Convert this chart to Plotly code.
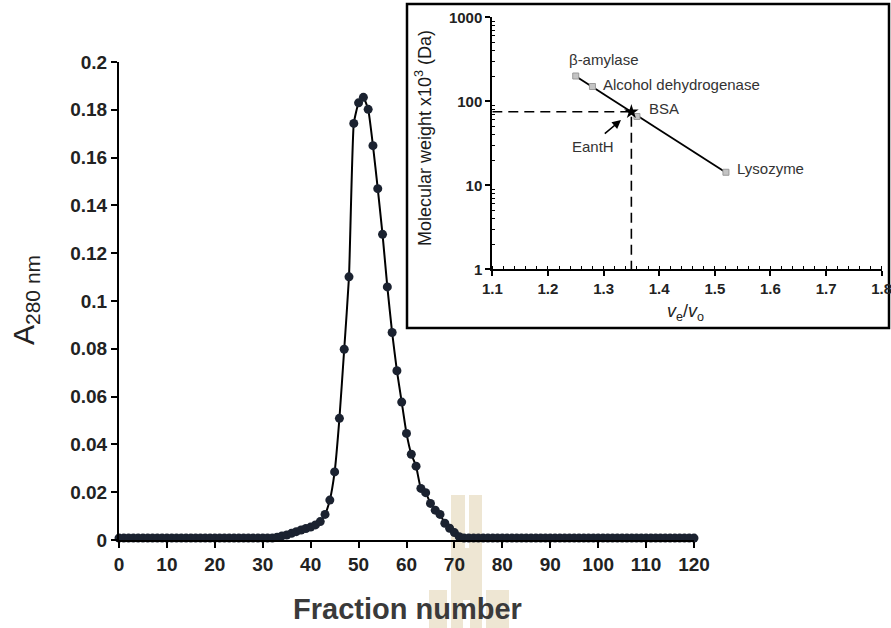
import numpy as np
import plotly.graph_objects as go

W, H = 891, 628

# ---- elution profile (A280 per fraction) ----
fraction = list(range(121))
a280 = [
    0.0008, 0.0008, 0.0008, 0.0008, 0.0008, 0.0008, 0.0008, 0.0008, 0.0008, 0.0008,
    0.0008, 0.0008, 0.0008, 0.0008, 0.0008, 0.0008, 0.0008, 0.0008, 0.0008, 0.0008,
    0.0008, 0.0008, 0.0008, 0.0008, 0.0008, 0.0008, 0.0008, 0.0008, 0.0008, 0.0008,
    0.0008, 0.0008, 0.0008, 0.0012, 0.0017, 0.0021, 0.0028, 0.0035, 0.0042, 0.0048,
    0.0054, 0.0063, 0.0077, 0.0107, 0.0167, 0.0285, 0.0509, 0.0798, 0.1101, 0.1743,
    0.1829, 0.1852, 0.1802, 0.1650, 0.1470, 0.1279, 0.1059, 0.0868, 0.0708, 0.0577,
    0.0446, 0.0359, 0.0309, 0.0216, 0.0198, 0.0153, 0.0125, 0.0107, 0.0070, 0.0049,
    0.0031, 0.0014, 0.0008, 0.0008, 0.0008, 0.0008, 0.0008, 0.0008, 0.0008, 0.0008,
    0.0008, 0.0008, 0.0008, 0.0008, 0.0008, 0.0008, 0.0008, 0.0008, 0.0008, 0.0008,
    0.0008, 0.0008, 0.0008, 0.0008, 0.0008, 0.0008, 0.0008, 0.0008, 0.0008, 0.0008,
    0.0008, 0.0008, 0.0008, 0.0008, 0.0008, 0.0008, 0.0008, 0.0008, 0.0008, 0.0008,
    0.0008, 0.0008, 0.0008, 0.0008, 0.0008, 0.0008, 0.0008, 0.0008, 0.0008, 0.0008,
    0.0008,
]
x_ticks = list(range(0, 121, 10))
y_ticks = [0, 0.02, 0.04, 0.06, 0.08, 0.1, 0.12, 0.14, 0.16, 0.18, 0.2]
y_ticklabels = ["0", "0.02", "0.04", "0.06", "0.08", "0.1", "0.12", "0.14", "0.16", "0.18", "0.2"]

# ---- calibration standards ----
std_names = ["β-amylase", "Alcohol dehydrogenase", "BSA", "Lysozyme"]
std_ve_vo = [1.25, 1.28, 1.36, 1.52]
std_mw = [200, 150, 66, 14.3]
sample_name = "EantH"
sample_ve_vo = 1.35
sample_mw = 75
inset_x_ticks = [1.1, 1.2, 1.3, 1.4, 1.5, 1.6, 1.7, 1.8]
inset_y_ticks = [1, 10, 100, 1000]

FONT = "Arial, Liberation Sans, sans-serif"


def px_x(p):
    return p / W


def px_y(p):
    return 1 - p / H


fig = go.Figure()

# elution profile
fig.add_trace(go.Scatter(
    x=fraction, y=a280, mode="lines+markers",
    line=dict(color="black", width=2, shape="spline", smoothing=0.4),
    marker=dict(color="#1b2230", size=9),
    cliponaxis=False, showlegend=False, xaxis="x", yaxis="y",
))

# log-linear calibration line through the standards
coef = np.polyfit(std_ve_vo, np.log10(std_mw), 1)
fit_x = [min(std_ve_vo), max(std_ve_vo)]
fit_y = [10 ** np.polyval(coef, v) for v in fit_x]
fig.add_trace(go.Scatter(
    x=fit_x, y=fit_y, mode="lines",
    line=dict(color="black", width=1.8),
    showlegend=False, xaxis="x2", yaxis="y2",
))

# dashed read-off lines for the sample
fig.add_trace(go.Scatter(
    x=[inset_x_ticks[0], sample_ve_vo, sample_ve_vo],
    y=[sample_mw, sample_mw, inset_y_ticks[0]],
    mode="lines", line=dict(color="black", width=1.6, dash="10px,6px"),
    showlegend=False, xaxis="x2", yaxis="y2",
))

fig.add_trace(go.Scatter(
    x=std_ve_vo, y=std_mw, mode="markers",
    marker=dict(symbol="square", size=6, color="#c4c4c4",
                line=dict(color="#9a9a9a", width=1)),
    showlegend=False, xaxis="x2", yaxis="y2",
))

fig.add_trace(go.Scatter(
    x=[sample_ve_vo], y=[sample_mw], mode="markers",
    marker=dict(symbol="star", size=11, color="black"),
    showlegend=False, xaxis="x2", yaxis="y2",
))

main_x_dom = [px_x(119), px_x(694)]
main_y_dom = [px_y(540), px_y(62)]
ins_x_dom = [px_x(492.3), px_x(881.7)]
ins_y_dom = [px_y(269.3), px_y(17.3)]

axis_common = dict(showline=True, linecolor="black", showgrid=False,
                   zeroline=False, ticks="outside", tickcolor="black",
                   automargin=False, ticklabeloverflow="allow")

fig.update_layout(
    width=W, height=H,
    margin=dict(l=0, r=0, t=0, b=0, pad=0, autoexpand=False),
    paper_bgcolor="white", plot_bgcolor="rgba(0,0,0,0)",
    font=dict(family=FONT, color="#222"),
    xaxis=dict(domain=main_x_dom, range=[0, 120], tickvals=x_ticks,
               linewidth=2, tickwidth=2, ticklen=6, anchor="y",
               tickfont=dict(size=19, family=FONT, color="#222", weight="bold"),
               **axis_common),
    yaxis=dict(domain=main_y_dom, range=[0, 0.2], tickvals=y_ticks,
               ticktext=y_ticklabels, linewidth=2, tickwidth=2, ticklen=6,
               anchor="x",
               tickfont=dict(size=19, family=FONT, color="#222", weight="bold"),
               **axis_common),
    xaxis2=dict(domain=ins_x_dom, range=[1.1, 1.8], tickvals=inset_x_ticks,
                ticktext=[f"{v:.1f}" for v in inset_x_ticks],
                linewidth=2, tickwidth=1.5, ticklen=5, anchor="y2",
                minor=dict(dtick=0.02, tick0=1.1, ticks="inside", ticklen=3,
                           tickwidth=1.2, tickcolor="black"),
                tickfont=dict(size=15, family=FONT, color="#222", weight="bold"),
                **axis_common),
    yaxis2=dict(domain=ins_y_dom, type="log", range=[0, 3],
                tickvals=inset_y_ticks, ticktext=[str(v) for v in inset_y_ticks],
                linewidth=2, tickwidth=1.5, ticklen=5, anchor="x2",
                minor=dict(tickvals=[2, 3, 4, 5, 6, 7, 8, 9,
                                     20, 30, 40, 50, 60, 70, 80, 90,
                                     200, 300, 400, 500, 600, 700, 800, 900],
                           ticks="inside", ticklen=3, tickwidth=1.2,
                           tickcolor="black"),
                tickfont=dict(size=15, family=FONT, color="#222", weight="bold"),
                **axis_common),
)

shapes = []
# faint watermark emblem
tan = "rgba(222,205,168,0.5)"
for x0, y0, x1, y1 in [(451, 495, 482, 628), (429, 590, 447, 628), (486, 590, 509, 628)]:
    shapes.append(dict(type="rect", xref="paper", yref="paper",
                       x0=px_x(x0), x1=px_x(x1), y0=px_y(y1), y1=px_y(y0),
                       fillcolor=tan, line=dict(width=0), layer="below"))
for x0, y0, x1, y1 in [(465, 495, 469, 548), (463, 600, 470, 628)]:
    shapes.append(dict(type="rect", xref="paper", yref="paper",
                       x0=px_x(x0), x1=px_x(x1), y0=px_y(y1), y1=px_y(y0),
                       fillcolor="white", line=dict(width=0), layer="below"))
# inset frame
shapes.append(dict(type="rect", xref="paper", yref="paper",
                   x0=px_x(407), x1=px_x(889), y0=px_y(328), y1=px_y(4),
                   fillcolor="white", line=dict(color="black", width=2.5),
                   layer="below"))
fig.update_layout(shapes=shapes)

ann = []
center = dict(xanchor="center", yanchor="middle", showarrow=False)
# main axis titles
ann.append(dict(text="A<sub>280 nm</sub>", xref="paper", yref="paper",
                x=px_x(25), y=px_y(300), textangle=-90,
                font=dict(size=30, family=FONT, color="#222"), **center))
ann.append(dict(text="<b>Fraction number</b>", xref="paper", yref="paper",
                x=px_x(407), y=px_y(609),
                font=dict(size=29, family=FONT, color="#3a3a3a"), **center))
# inset axis titles
ann.append(dict(text="Molecular weight x10<sup>3</sup> (Da)", xref="paper", yref="paper",
                x=px_x(423), y=px_y(138), textangle=-90,
                font=dict(size=18, family=FONT, color="#1a1a1a"), **center))
ann.append(dict(text="<i>v</i><sub>e</sub>/<i>v</i><sub>o</sub>", xref="paper", yref="paper",
                x=px_x(685), y=px_y(313),
                font=dict(size=18, family=FONT, color="#222"), **center))

# standard labels (log axis annotations take log10 positions)
label_pos = [
    (1.2995, 2.492, "center"),
    (1.2954, 2.206, "left"),
    (1.3775, 1.917, "left"),
    (1.5363, 1.202, "left"),
]
for name, (lx, ly, anc) in zip(std_names, label_pos):
    ann.append(dict(text=name, xref="x2", yref="y2", x=lx, y=ly, xanchor=anc,
                    yanchor="middle", showarrow=False,
                    font=dict(size=15, family=FONT, color="#333")))
ann.append(dict(text=sample_name, xref="x2", yref="y2", x=1.2805, y=1.459,
                showarrow=False, font=dict(size=15, family=FONT, color="#333")))
ann.append(dict(text="", xref="x2", yref="y2", x=1.3314, y=1.777,
                axref="x2", ayref="y2", ax=1.2995, ay=1.599,
                showarrow=True, arrowhead=2, arrowsize=1.1, arrowwidth=1.6,
                arrowcolor="black"))
fig.update_layout(annotations=ann)

fig.write_html("out.html")
